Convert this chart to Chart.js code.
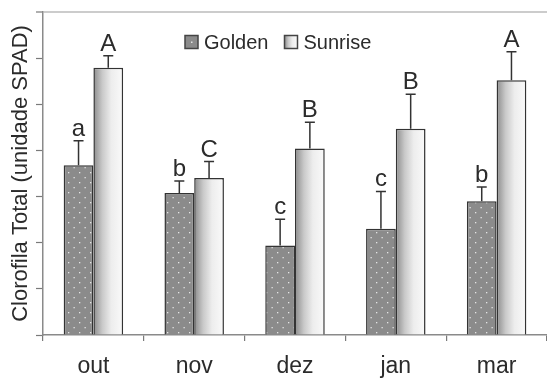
<!DOCTYPE html>
<html>
<head>
<meta charset="utf-8">
<script src="https://cdn.jsdelivr.net/npm/chart.js@4/dist/chart.umd.min.js"></script>
<style>
  html, body { margin: 0; padding: 0; background: #fff; overflow: hidden; }
  canvas { display: block; }
</style>
</head>
<body>
<canvas id="c" width="547" height="378"></canvas>
<script>
// Months of sampling and the two cultivars
const months = ['out', 'nov', 'dez', 'jan', 'mar'];
const seriesNames = ['Golden', 'Sunrise'];

// Total chlorophyll (SPAD units) and upper error of each mean
const golden = [36.8, 30.8, 19.4, 23.0, 29.0];
const sunrise = [57.9, 34.0, 40.4, 44.7, 55.2];
const goldenErr = [5.3, 2.6, 5.7, 8.1, 3.1];
const sunriseErr = [2.6, 3.6, 5.7, 7.5, 6.2];

// Mean-separation letters written above each bar
const goldenLetters = ['a', 'b', 'c', 'c', 'b'];
const sunriseLetters = ['A', 'C', 'B', 'B', 'A'];

// Value axis: unlabeled ticks every 10 units
const yMin = 0;
const yMax = 70;
const yStep = 10;

const axisTitle = 'Clorofila Total (unidade SPAD)';

const FONT = "'Liberation Sans', Arial, Helvetica, sans-serif";
const GROUP = 0.59;
const INK = '#2b2b2b';

const canvas = document.getElementById('c');
const mainCtx = canvas.getContext('2d');

// Dotted grey fill for the Golden bars
function dottedFill() {
  const tile = document.createElement('canvas');
  tile.width = 11; tile.height = 10;
  const g = tile.getContext('2d');
  g.fillStyle = '#8b8b8b';
  g.fillRect(0, 0, 11, 10);
  g.fillStyle = '#e4e4e4';
  g.fillRect(2, 2, 1.3, 1.3);
  g.fillRect(7.5, 7, 1.3, 1.3);
  return mainCtx.createPattern(tile, 'repeat');
}
const goldenFill = dottedFill();

function shadeGradient(ctx, left, right) {
  const g = ctx.createLinearGradient(left, 0, right, 0);
  g.addColorStop(0, '#8c8c8c');
  g.addColorStop(0.3, '#c9c9c9');
  g.addColorStop(0.6, '#ededed');
  g.addColorStop(1, '#fafafa');
  return g;
}

// Horizontal grey-to-white shading across each Sunrise bar
function sunriseFill(context) {
  const chart = context.chart;
  const xs = chart.scales && chart.scales.x;
  if (!chart.chartArea || !xs || context.type !== 'data') return '#e6e6e6';
  const center = xs.getPixelForValue(context.dataIndex);
  const w = xs.width / months.length * GROUP / 2;
  return shadeGradient(chart.ctx, center, center + w);
}

// Error whiskers (upper only) and letters above the bars
const barNotes = {
  id: 'barNotes',
  afterDatasetsDraw(chart) {
    const ctx = chart.ctx;
    const ys = chart.scales.y;
    ctx.save();
    chart.data.datasets.forEach((ds, di) => {
      const meta = chart.getDatasetMeta(di);
      meta.data.forEach((bar, i) => {
        const top = ys.getPixelForValue(ds.data[i] + ds.errors[i]);
        ctx.strokeStyle = '#333';
        ctx.lineWidth = 1.5;
        ctx.beginPath();
        ctx.moveTo(bar.x, bar.y);
        ctx.lineTo(bar.x, top);
        ctx.moveTo(bar.x - 5, top);
        ctx.lineTo(bar.x + 5, top);
        ctx.stroke();
        ctx.fillStyle = INK;
        ctx.font = '24px ' + FONT;
        ctx.textAlign = 'center';
        ctx.textBaseline = 'alphabetic';
        ctx.fillText(ds.letters[i], bar.x, top - 5);
      });
    });
    ctx.restore();
  }
};

// Legend drawn inside the plot, near its top
const innerLegend = {
  id: 'innerLegend',
  afterDraw(chart) {
    const ctx = chart.ctx;
    const area = chart.chartArea;
    let x = area.left + 142;
    const cy = area.top + 30;
    const box = 13;
    ctx.save();
    ctx.font = '20px ' + FONT;
    ctx.textBaseline = 'middle';
    ctx.textAlign = 'left';
    chart.data.datasets.forEach((ds, di) => {
      const bx = x, by = cy - box / 2;
      if (di === 0) {
        ctx.fillStyle = '#8b8b8b';
        ctx.fillRect(bx, by, box, box);
        ctx.fillStyle = '#e4e4e4';
        ctx.fillRect(bx + 6, by + 6, 1.5, 1.5);
      } else {
        ctx.fillStyle = shadeGradient(ctx, bx, bx + box);
        ctx.fillRect(bx, by, box, box);
      }
      ctx.strokeStyle = '#444';
      ctx.lineWidth = 1.5;
      ctx.strokeRect(bx, by, box, box);
      ctx.fillStyle = INK;
      const tx = bx + box + 6;
      ctx.fillText(ds.label, tx, cy + 1);
      x = tx + ctx.measureText(ds.label).width + 16;
    });
    ctx.restore();
  }
};

Chart.defaults.font.family = FONT;
Chart.defaults.color = INK;

new Chart(canvas, {
  type: 'bar',
  data: {
    labels: months,
    datasets: [
      {
        label: seriesNames[0],
        data: golden,
        errors: goldenErr,
        letters: goldenLetters,
        backgroundColor: goldenFill,
        borderColor: '#333',
        borderWidth: 1.5,
        categoryPercentage: GROUP,
        barPercentage: 1
      },
      {
        label: seriesNames[1],
        data: sunrise,
        errors: sunriseErr,
        letters: sunriseLetters,
        backgroundColor: sunriseFill,
        borderColor: '#333',
        borderWidth: 1.5,
        categoryPercentage: GROUP,
        barPercentage: 1
      }
    ]
  },
  options: {
    responsive: false,
    animation: false,
    devicePixelRatio: 1,
    layout: { padding: { left: 5.6, right: -7, top: 12, bottom: -13.8 } },
    plugins: {
      legend: { display: false },
      tooltip: { enabled: false }
    },
    scales: {
      x: {
        offset: true,
        grid: {
          offset: true,
          drawOnChartArea: false,
          color: '#7a7a7a',
          lineWidth: 1.2,
          tickLength: 6
        },
        border: { color: '#8a8a8a', width: 1.5 },
        ticks: {
          font: { size: 23, family: FONT },
          color: INK,
          padding: 11.6,
          maxRotation: 0
        }
      },
      y: {
        min: yMin,
        max: yMax,
        ticks: { stepSize: yStep, display: false },
        grid: {
          drawOnChartArea: true,
          color: c => (c.tick && c.tick.value === yMax) ? '#cccccc' : 'rgba(0,0,0,0)',
          lineWidth: c => (c.tick && c.tick.value === yMax) ? 2 : 1,
          tickColor: '#7a7a7a',
          tickWidth: 1.2,
          tickLength: 7
        },
        border: { color: '#8a8a8a', width: 1.5 },
        title: {
          display: true,
          text: axisTitle,
          font: { size: 22, family: FONT },
          color: INK,
          padding: { top: 2, bottom: 2 }
        }
      }
    }
  },
  plugins: [barNotes, innerLegend]
});
</script>
</body>
</html>
